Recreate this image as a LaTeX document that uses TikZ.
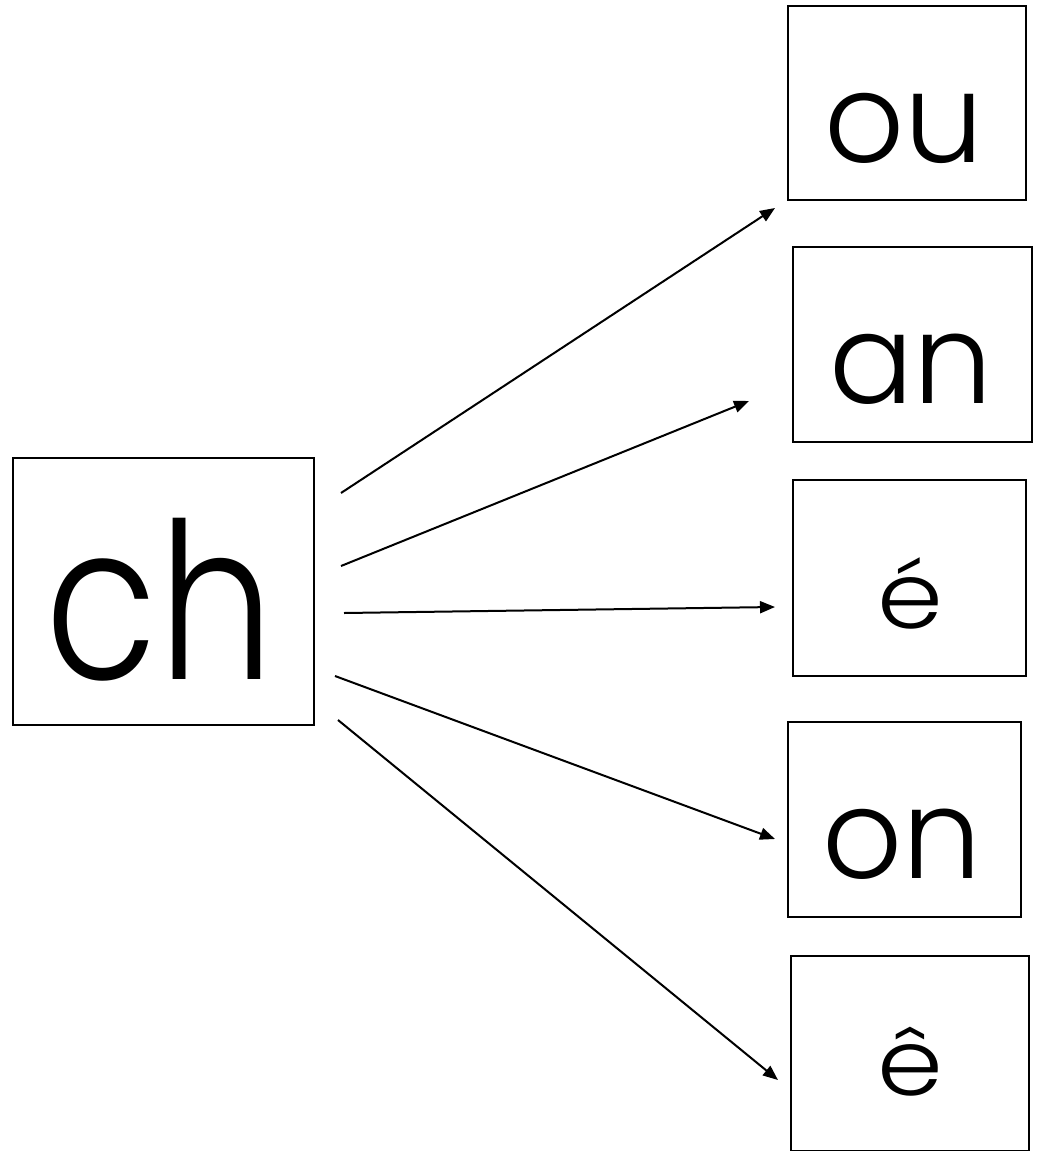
\documentclass[tikz,border=0pt]{standalone}
\usepackage{fontspec}
\setmainfont{Poppins Light}
\usetikzlibrary{arrows.meta}
\begin{document}
\begin{tikzpicture}[x=1pt,y=-1pt,
  box/.style={draw=black,line width=2pt,rectangle,inner sep=0pt,anchor=north west},
  txt/.style={inner sep=0pt,anchor=base},
  bigtxt/.style={txt,font=\fontsize{218}{218}\selectfont,xscale=0.84,transform shape},
  midtxt/.style={txt,font=\fontsize{125}{125}\selectfont},
  acctxt/.style={txt,font=\fontsize{92}{92}\selectfont,xscale=1.15,transform shape},
  conn/.style={line width=2pt,-{Triangle[length=15pt,width=12pt]}}]
\useasboundingbox (0,0) rectangle (1038,1151);
% boxes
\node[box,minimum width=301pt,minimum height=267pt] (ch) at (12,457) {};
\node[box,minimum width=238pt,minimum height=194pt] (ou) at (787,5) {};
\node[box,minimum width=239pt,minimum height=195pt] (an) at (792,246) {};
\node[box,minimum width=233pt,minimum height=196pt] (eac) at (792,479) {};
\node[box,minimum width=233pt,minimum height=195pt] (on) at (787,721) {};
\node[box,minimum width=238pt,minimum height=195pt] (eci) at (790,955) {};
% texts
\node[bigtxt] (tch) at (160,679) {ch};
\node[midtxt] (tou) at (904,162) {ou};
\node[midtxt] (tan) at (911,403) {an};
\node[acctxt] (teac) at (910,628) {é};
\node[midtxt] (ton) at (902,878) {on};
\node[acctxt] (teci) at (910,1095) {ê};
% arrow endpoints
\coordinate (s1) at (341,493); \coordinate (e1) at (775,208);
\coordinate (s2) at (341,566); \coordinate (e2) at (749,401);
\coordinate (s3) at (344,613); \coordinate (e3) at (775,607);
\coordinate (s4) at (335,676); \coordinate (e4) at (775,839);
\coordinate (s5) at (338,720); \coordinate (e5) at (778,1080);
\draw[conn] (s1) -- (e1);
\draw[conn] (s2) -- (e2);
\draw[conn] (s3) -- (e3);
\draw[conn] (s4) -- (e4);
\draw[conn] (s5) -- (e5);
\end{tikzpicture}
\end{document}
